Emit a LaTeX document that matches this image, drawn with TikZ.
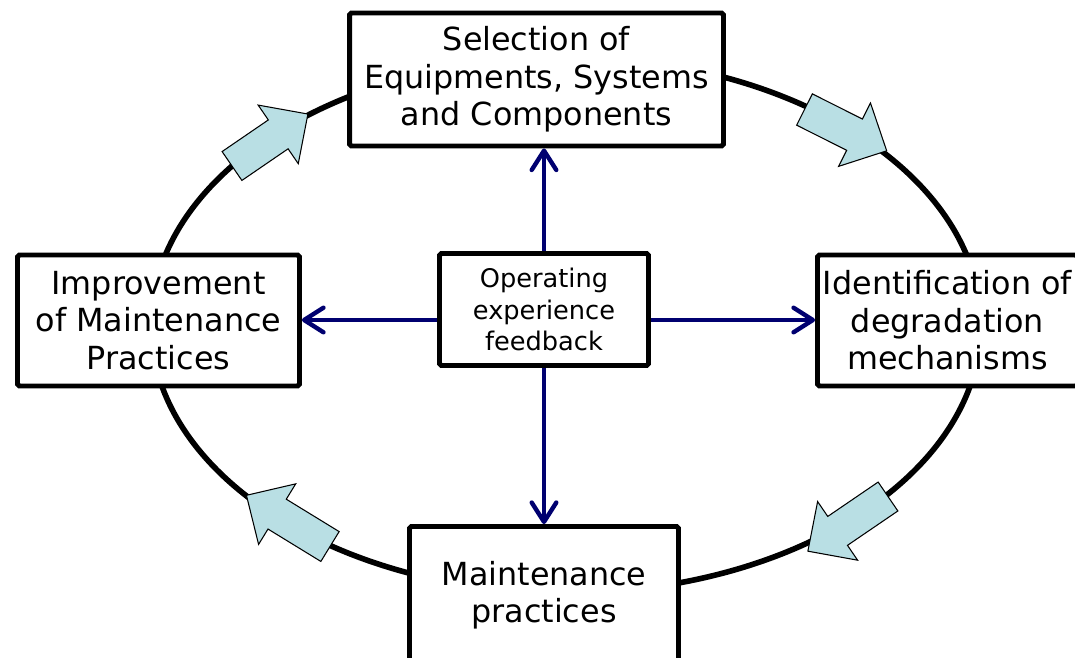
\documentclass[tikz,border=0pt]{standalone}
\usepackage{fontspec}
\setmainfont{DejaVu Sans}
\usetikzlibrary{arrows.meta}
\definecolor{navyarrow}{RGB}{0,0,112}
\definecolor{aquafill}{RGB}{185,223,228}
\newcommand{\blockarrow}[4]{%
  \begin{scope}[shift={(#1,#2)},rotate=#3]
    \filldraw[fill=aquafill,draw=black,line width=0.6pt,line join=miter]
      (0,17.5) -- ({#4-36},17.5) -- ({#4-36},35.5) -- (#4,0) -- ({#4-36},-35.5) -- ({#4-36},-17.5) -- (0,-17.5) -- cycle;
  \end{scope}}
\begin{document}
\begin{tikzpicture}[x=0.02cm,y=-0.02cm,
  box/.style={draw=black,fill=white,line width=2.8pt,rounded corners=1pt,align=center,inner sep=0pt},
  bigtext/.style={font=\fontsize{18.1pt}{21.3pt}\selectfont},
  smalltext/.style={font=\fontsize{14.6pt}{17.9pt}\selectfont},
  conn/.style={draw=navyarrow,line width=2.5pt,-{Straight Barb[length=11pt,width=14pt,round]}}]
\useasboundingbox (0,0) rectangle (1075,657);
\clip (0,0) rectangle (1075,657);
\draw[line width=3.2pt] (566,325) ellipse [x radius=8.3cm, y radius=5.36cm];
\blockarrow{232}{166}{34.4}{92}
\blockarrow{804.5}{109.5}{-26.7}{92}
\blockarrow{888}{496.5}{214.3}{97}
\blockarrow{330}{546.5}{148.5}{98}
\node[box,bigtext,minimum width=7.48cm,minimum height=2.66cm] (tbox) at (536.5,79.5) {Selection of\\Equipments, Systems\\and Components};
\node[box,bigtext,minimum width=5.64cm,minimum height=2.62cm] (lbox) at (158.5,320.5) {Improvement\\of Maintenance\\Practices};
\node[box,bigtext,minimum width=5.2cm,minimum height=2.62cm] (rbox) at (947.5,320.5) {Identification of\\degradation\\mechanisms};
\node[box,bigtext,minimum width=5.38cm,minimum height=2.74cm] (bbox) at (544,595) {Maintenance\\practices};
\node[box,smalltext,minimum width=4.18cm,minimum height=2.24cm] (cbox) at (544,309.5) {Operating\\experience\\feedback};
\draw[conn] (cbox.north) -- (cbox.north |- tbox.south);
\draw[conn] (cbox.south) -- (cbox.south |- bbox.north);
\draw[conn] (cbox.west |- 0,320) -- (lbox.east |- 0,320);
\draw[conn] (cbox.east |- 0,320) -- (rbox.west |- 0,320);
\end{tikzpicture}
\end{document}
